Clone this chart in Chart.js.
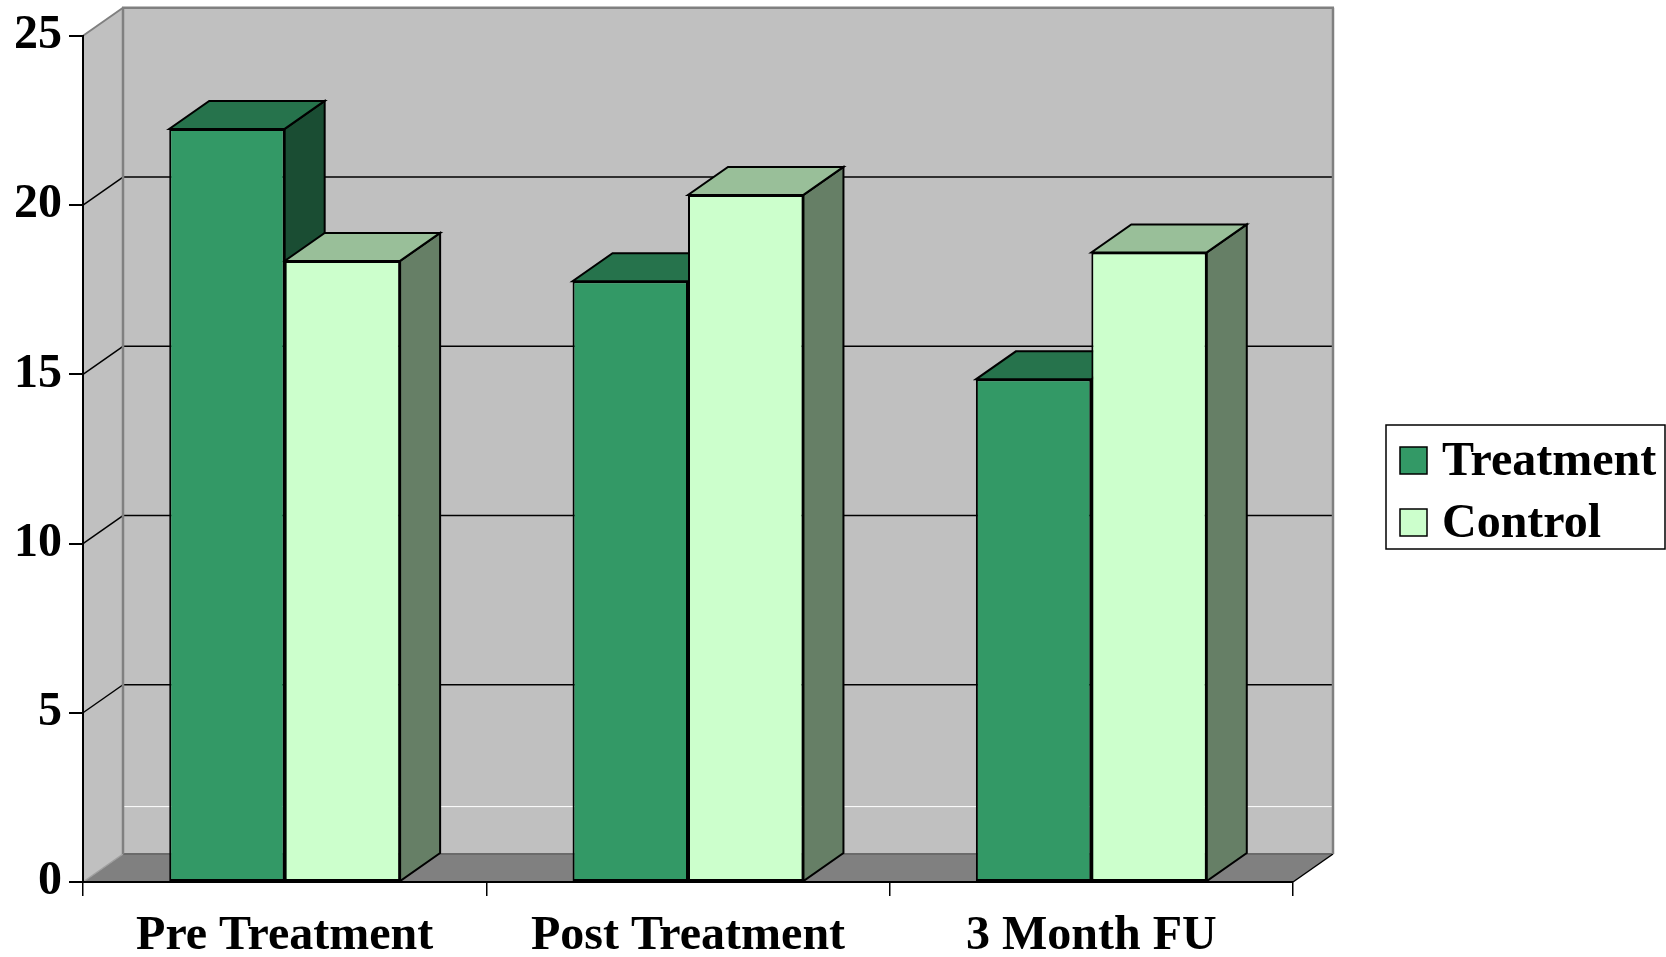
<!DOCTYPE html>
<html>
<head>
<meta charset="utf-8">
<title>Treatment vs Control</title>
<script src="https://cdn.jsdelivr.net/npm/chart.js@4/dist/chart.umd.min.js"></script>
<style>
  html, body { margin: 0; padding: 0; background: #ffffff; }
  canvas { display: block; }
</style>
</head>
<body>
<canvas id="chart" width="1666" height="957"></canvas>
<script>
// Categories and series values
const categories = ['Pre Treatment', 'Post Treatment', '3 Month FU'];
const treatmentValues = [22.25, 17.75, 14.85];
const controlValues = [18.35, 20.3, 18.6];
const yTicks = [0, 5, 10, 15, 20, 25];

// Face colours of the 3D columns (front, top, side)
const treatmentColors = { front: '#339966', top: '#26734C', side: '#1A4D33' };
const controlColors = { front: '#CCFFCC', top: '#99BF99', side: '#667F66' };

// Depth of the 3D box (horizontal and vertical shift of the back plane)
const DEPTH_X = 40;
const DEPTH_Y = -28;
const FONT = { family: "'Liberation Serif', 'Times New Roman', serif", size: 48, weight: 'bold' };

function poly(ctx, pts, fill, stroke, lw) {
  ctx.beginPath();
  ctx.moveTo(pts[0][0], pts[0][1]);
  for (let i = 1; i < pts.length; i++) ctx.lineTo(pts[i][0], pts[i][1]);
  ctx.closePath();
  if (fill) { ctx.fillStyle = fill; ctx.fill(); }
  if (stroke) { ctx.strokeStyle = stroke; ctx.lineWidth = lw; ctx.stroke(); }
}
function line(ctx, x1, y1, x2, y2, color, lw) {
  ctx.beginPath();
  ctx.moveTo(x1, y1);
  ctx.lineTo(x2, y2);
  ctx.strokeStyle = color;
  ctx.lineWidth = lw;
  ctx.stroke();
}

// Walls, floor and gridlines of the 3D plot box
const boxPlugin = {
  id: 'box3d',
  beforeDraw(chart) {
    const ctx = chart.ctx;
    const y = chart.scales.y;
    const a = chart.chartArea;
    const top = y.getPixelForValue(25);
    const bottom = y.getPixelForValue(0);
    const L = a.left, R = a.right;
    ctx.save();
    ctx.lineJoin = 'miter';
    // left side wall
    poly(ctx, [[L, top], [L + DEPTH_X, top + DEPTH_Y], [L + DEPTH_X, bottom + DEPTH_Y], [L, bottom]], '#C0C0C0');
    // back wall
    poly(ctx, [[L + DEPTH_X, top + DEPTH_Y], [R + DEPTH_X, top + DEPTH_Y], [R + DEPTH_X, bottom + DEPTH_Y], [L + DEPTH_X, bottom + DEPTH_Y]], '#C0C0C0');
    // faint highlight line low on the back wall
    const hy = y.getPixelForValue(1.4) + DEPTH_Y;
    line(ctx, L + DEPTH_X, hy, R + DEPTH_X, hy, '#FFFFFF', 1);
    // floor
    poly(ctx, [[L, bottom], [R, bottom], [R + DEPTH_X, bottom + DEPTH_Y], [L + DEPTH_X, bottom + DEPTH_Y]], '#808080');
    line(ctx, L + DEPTH_X, bottom + DEPTH_Y, R + DEPTH_X, bottom + DEPTH_Y, '#6A6A6A', 2);
    line(ctx, L, bottom, L + DEPTH_X, bottom + DEPTH_Y, '#A0A0A0', 1.5);
    line(ctx, R, bottom, R + DEPTH_X, bottom + DEPTH_Y, '#000000', 1.5);
    // gridlines across side wall and back wall
    yTicks.forEach(v => {
      if (v === 0 || v === 25) return;
      const py = y.getPixelForValue(v);
      line(ctx, L, py, L + DEPTH_X, py + DEPTH_Y, '#000000', 1.5);
      line(ctx, L + DEPTH_X, py + DEPTH_Y, R + DEPTH_X, py + DEPTH_Y, '#000000', 1.5);
    });
    // wall edges
    line(ctx, L, top, L + DEPTH_X, top + DEPTH_Y, '#808080', 2);
    line(ctx, L + DEPTH_X - 1, top + DEPTH_Y, R + DEPTH_X + 1, top + DEPTH_Y, '#808080', 2.5);
    line(ctx, L + DEPTH_X, top + DEPTH_Y, L + DEPTH_X, bottom + DEPTH_Y, '#808080', 2.5);
    line(ctx, R + DEPTH_X, top + DEPTH_Y, R + DEPTH_X, bottom + DEPTH_Y, '#808080', 2.5);
    ctx.restore();
  },
  // top and side faces of every column, drawn before the library paints the fronts
  beforeDatasetsDraw(chart) {
    const ctx = chart.ctx;
    ctx.save();
    ctx.lineJoin = 'miter';
    const n = chart.data.labels.length;
    for (let i = 0; i < n; i++) {
      chart.data.datasets.forEach((ds, di) => {
        const el = chart.getDatasetMeta(di).data[i];
        const c = ds.faces;
        const l = el.x - el.width / 2, r = el.x + el.width / 2;
        const t = el.y, b = el.base;
        poly(ctx, [[r, t], [r + DEPTH_X, t + DEPTH_Y], [r + DEPTH_X, b + DEPTH_Y], [r, b]], c.side, '#000000', 2);
        poly(ctx, [[l, t], [r, t], [r + DEPTH_X, t + DEPTH_Y], [l + DEPTH_X, t + DEPTH_Y]], c.top, '#000000', 2);
      });
    }
    ctx.restore();
  },
  // framed legend at the right
  afterDraw(chart) {
    const ctx = chart.ctx;
    ctx.save();
    const bx = 1386, by = 425, bw = 279, bh = 124;
    ctx.fillStyle = '#FFFFFF';
    ctx.fillRect(bx, by, bw, bh);
    ctx.strokeStyle = '#000000';
    ctx.lineWidth = 1.5;
    ctx.strokeRect(bx, by, bw, bh);
    ctx.font = `${FONT.weight} ${FONT.size}px ${FONT.family}`;
    ctx.textBaseline = 'alphabetic';
    ctx.textAlign = 'left';
    chart.data.datasets.forEach((ds, di) => {
      const base = 475 + di * 62;
      ctx.fillStyle = ds.faces.front;
      ctx.fillRect(1400, base - 28, 27, 27);
      ctx.strokeStyle = '#000000';
      ctx.lineWidth = 1.5;
      ctx.strokeRect(1400, base - 28, 27, 27);
      ctx.fillStyle = '#000000';
      ctx.fillText(ds.label, 1442, base);
    });
    ctx.restore();
  }
};

new Chart(document.getElementById('chart'), {
  type: 'bar',
  data: {
    labels: categories,
    datasets: [
      { label: 'Treatment', data: treatmentValues, faces: treatmentColors,
        backgroundColor: treatmentColors.front, borderColor: '#000000', borderWidth: 2, borderSkipped: false },
      { label: 'Control', data: controlValues, faces: controlColors,
        backgroundColor: controlColors.front, borderColor: '#000000', borderWidth: 2, borderSkipped: false }
    ]
  },
  options: {
    responsive: false,
    animation: false,
    events: [],
    layout: { padding: { top: 35, right: 373, left: 0, bottom: 0 } },
    datasets: { bar: { categoryPercentage: 0.5725, barPercentage: 1.0 } },
    plugins: { legend: { display: false }, tooltip: { enabled: false } },
    scales: {
      x: {
        grid: { display: true, drawOnChartArea: false, drawTicks: true, tickLength: 14, color: '#000000', lineWidth: 1.5, offset: true },
        border: { display: true, color: '#000000', width: 2 },
        ticks: { color: '#000000', font: FONT, padding: 12, maxRotation: 0 },
        afterFit(scale) { scale.height = 75; }
      },
      y: {
        min: 0, max: 25,
        afterBuildTicks(scale) { scale.ticks = yTicks.map(v => ({ value: v })); },
        grid: { display: true, drawOnChartArea: false, drawTicks: true, tickLength: 14, color: '#000000', lineWidth: 2 },
        border: { display: true, color: '#000000', width: 2 },
        ticks: { color: '#000000', font: FONT, padding: 7 },
        afterFit(scale) { scale.width = 83; }
      }
    }
  },
  plugins: [boxPlugin]
});
</script>
</body>
</html>
